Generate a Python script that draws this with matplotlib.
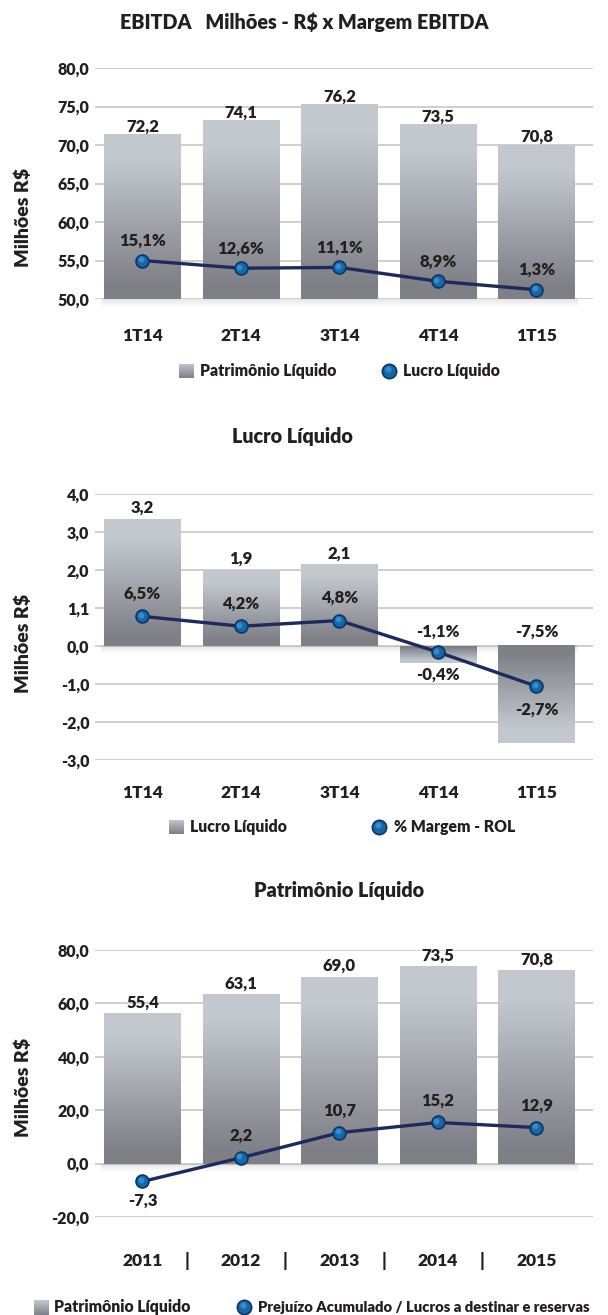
import numpy as np
import matplotlib
matplotlib.use("Agg")
import matplotlib.pyplot as plt
from matplotlib.lines import Line2D
from matplotlib.transforms import offset_copy

# ---------------- data ----------------
quarters = ["1T14", "2T14", "3T14", "4T14", "1T15"]
years = ["2011", "2012", "2013", "2014", "2015"]

ebitda_bars = [71.4, 73.2, 75.2, 72.7, 70.0]
ebitda_bar_labels = ["72,2", "74,1", "76,2", "73,5", "70,8"]
ebitda_line = [55.0, 54.0, 54.1, 52.3, 51.2]
ebitda_line_labels = ["15,1%", "12,6%", "11,1%", "8,9%", "1,3%"]
ebitda_ticks = [50, 55, 60, 65, 70, 75, 80]
ebitda_ticklabels = ["50,0", "55,0", "60,0", "65,0", "70,0", "75,0", "80,0"]

lucro_bars = [3.34, 2.0, 2.15, -0.44, -2.56]
lucro_bar_labels = ["3,2", "1,9", "2,1", "-0,4%", "-2,7%"]
lucro_line = [0.78, 0.52, 0.67, -0.16, -1.06]
lucro_line_labels = ["6,5%", "4,2%", "4,8%", "-1,1%", "-7,5%"]
lucro_ticks = [-3, -2, -1, 0, 1, 2, 3, 4]
lucro_ticklabels = ["-3,0", "-2,0", "-1,0", "0,0", "1,1", "2,0", "3,0", "4,0"]

pl_bars = [56.2, 63.3, 70.0, 73.8, 72.3]
pl_bar_labels = ["55,4", "63,1", "69,0", "73,5", "70,8"]
pl_line = [-6.7, 2.2, 11.6, 15.4, 13.5]
pl_line_labels = ["-7,3", "2,2", "10,7", "15,2", "12,9"]
pl_ticks = [-20, 0, 20, 40, 60, 80]
pl_ticklabels = ["-20,0", "0,0", "20,0", "40,0", "60,0", "80,0"]

# ---------------- style ----------------
FONT = ["Lato", "DejaVu Sans"]
plt.rcParams["font.family"] = FONT
WT = "heavy"
plt.rcParams["font.weight"] = WT
TXT = "#231f20"
GRID = "#cccccc"
NAVY = "#1e2a5c"
DARK = np.array([0.50, 0.50, 0.53])
LIGHT = np.array([0.765, 0.785, 0.81])

TICK_FS = 11.5
VAL_FS = 12
CAT_FS = 12.5
LEG_FS = 11.3
TITLE_FS = 14.2
YLAB_FS = 14

W, H = 608, 1315
fig = plt.figure(figsize=(W / 100, H / 100), dpi=100)
fig.patch.set_facecolor("white")

AX_L, AX_R = 95, 593


def px_axes(t, b):
    return fig.add_axes([AX_L / W, 1 - b / H, (AX_R - AX_L) / W, (b - t) / H])


def grad_col(n, positive, t0=0.08, t1=0.85):
    t = np.linspace(0, 1, n)
    s = np.clip((t - t0) / (t1 - t0), 0, 1)
    c = DARK[None, :] + (LIGHT - DARK)[None, :] * s[:, None]
    if not positive:
        c = c[::-1]
    return c[:, None, :]


def gradient_bars(ax, x, heights, bottom=0.0):
    bars = ax.bar(x, heights, width=0.78, bottom=bottom, color="none",
                  edgecolor="none", zorder=2)
    for p in bars.patches:
        x0, y0, w, h = p.get_x(), p.get_y(), p.get_width(), p.get_height()
        pos = h >= 0
        ylo, yhi = (y0, y0 + h) if pos else (y0 + h, y0)
        ax.imshow(grad_col(200, pos), extent=[x0, x0 + w, ylo, yhi],
                  origin="lower", aspect="auto", zorder=2,
                  interpolation="bilinear")
    return bars


def shadow(ax, base, px_per_unit):
    n = 30
    a = np.linspace(0.32, 0.0, n) ** 1.3
    img = np.zeros((n, 1, 4))
    img[:, 0, :3] = 0.55
    img[:, 0, 3] = a
    depth = 9 / px_per_unit
    im = ax.imshow(img, extent=[-0.42, 4.42, base - depth, base],
                   origin="upper", aspect="auto", zorder=1.5,
                   interpolation="bilinear")
    im.set_clip_on(False)


def sphere_line(ax, x, y):
    ax.plot(x, y, color=NAVY, lw=2.4, zorder=4, solid_capstyle="round")
    ax.plot(x, y, "o", ms=10.5, mfc="#0a3866", mec="none", zorder=5, lw=0)
    ax.plot(x, y, "o", ms=8, mfc="#1766a8", mec="none", zorder=6, lw=0)
    tr = offset_copy(ax.transData, fig=fig, x=-1.5, y=1.5, units="dots")
    ax.plot(x, y, "o", ms=4.2, mfc="#3f95d4", mec="none", zorder=7, lw=0,
            transform=tr, alpha=0.8)


def style_axes(ax, ylim, ticks, ticklabels):
    ax.set_xlim(-0.482, 4.574)
    ax.set_ylim(*ylim)
    ax.set_yticks(ticks)
    ax.set_yticklabels(ticklabels)
    ax.set_xticks([])
    for s in ax.spines.values():
        s.set_visible(False)
    ax.tick_params(axis="y", length=0, pad=4, labelsize=TICK_FS,
                   labelcolor=TXT)
    for lab in ax.get_yticklabels():
        lab.set_fontweight(WT)
    ax.grid(axis="y", color=GRID, lw=1.3, zorder=0)
    ax.set_axisbelow(True)


def ann(ax, text, x, y, dy, size=VAL_FS):
    ax.annotate(text, xy=(x, y), xytext=(0, dy), textcoords="offset pixels",
                ha="center", va="center", fontsize=size, fontweight=WT,
                color=TXT, zorder=8)


def cat_labels(ax, labels, dy):
    for i, lab in enumerate(labels):
        ax.annotate(lab, xy=(i, 0), xycoords=("data", "axes fraction"),
                    xytext=(0, dy), textcoords="offset pixels",
                    ha="center", va="center", fontsize=CAT_FS,
                    fontweight=WT, color=TXT, annotation_clip=False)


def legend_square(x, y, size=15):
    lax = fig.add_axes([x / W, 1 - (y + size / 2) / H, size / W, size / H])
    lax.imshow(grad_col(50, True, 0.0, 1.0), origin="lower", aspect="auto",
               extent=[0, 1, 0, 1], interpolation="bilinear")
    lax.axis("off")


def legend_circle(x, y):
    for ms, c in [(11.5, "#0a3866"), (9, "#1766a8")]:
        fig.add_artist(Line2D([x / W], [1 - y / H], marker="o", ms=ms,
                              mfc=c, mec="none", transform=fig.transFigure))
    tr = offset_copy(fig.transFigure, fig=fig, x=-1.5, y=1.8, units="dots")
    fig.add_artist(Line2D([x / W], [1 - y / H], marker="o", ms=4.5,
                          mfc="#3f95d4", mec="none", alpha=0.8, transform=tr))


def ftext(x, y, s, size, ha="left", **kw):
    fig.text(x / W, 1 - y / H, s, fontsize=size, fontweight=WT,
             color=TXT, ha=ha, va="center", **kw)


xq = np.arange(len(quarters))

# ---------------- panel 1 ----------------
ax1 = px_axes(68, 299)
style_axes(ax1, (50, 80), ebitda_ticks, ebitda_ticklabels)
gradient_bars(ax1, xq, np.array(ebitda_bars) - 50, bottom=50)
shadow(ax1, 50, 7.7)
sphere_line(ax1, xq, ebitda_line)
for i in xq:
    ann(ax1, ebitda_bar_labels[i], i, ebitda_bars[i], 8)
    ann(ax1, ebitda_line_labels[i], i, ebitda_line[i], 20)
style_axes(ax1, (50, 80), ebitda_ticks, ebitda_ticklabels)
cat_labels(ax1, quarters, -37)
ftext(304, 22, "EBITDA   Milhões - R$ x Margem EBITDA", TITLE_FS, ha="center")
ftext(23, 217, "Milhões R$", YLAB_FS, ha="center", rotation=90)
legend_square(179, 371)
ftext(200, 371, "Patrimônio Líquido", LEG_FS)
legend_circle(389, 371)
ftext(403, 371, "Lucro Líquido", LEG_FS)

# ---------------- panel 2 ----------------
ax2 = px_axes(494, 760)
style_axes(ax2, (-3, 4), lucro_ticks, lucro_ticklabels)
gradient_bars(ax2, xq, lucro_bars)
shadow(ax2, 0, 38)
sphere_line(ax2, xq, lucro_line)
for i in xq:
    if lucro_bars[i] >= 0:
        ann(ax2, lucro_bar_labels[i], i, lucro_bars[i], 11)
        ann(ax2, lucro_line_labels[i], i, lucro_line[i], 23)
    else:
        ann(ax2, lucro_line_labels[i], i, 0, 14)
        ann(ax2, lucro_bar_labels[i], i, lucro_line[i], -23)
style_axes(ax2, (-3, 4), lucro_ticks, lucro_ticklabels)
cat_labels(ax2, quarters, -33)
ftext(292, 437, "Lucro Líquido", TITLE_FS, ha="center")
ftext(23, 643, "Milhões R$", YLAB_FS, ha="center", rotation=90)
legend_square(169, 827)
ftext(190, 827, "Lucro Líquido", LEG_FS)
legend_circle(379, 827)
ftext(394, 827, "% Margem - ROL", LEG_FS)

# ---------------- panel 3 ----------------
ax3 = px_axes(950, 1217)
style_axes(ax3, (-20, 80), pl_ticks, pl_ticklabels)
gradient_bars(ax3, xq, pl_bars)
shadow(ax3, 0, 2.67)
sphere_line(ax3, xq, pl_line)
for i in xq:
    ann(ax3, pl_bar_labels[i], i, pl_bars[i], 11)
    ann(ax3, pl_line_labels[i], i, pl_line[i], 22 if pl_line[i] >= 0 else -19)
style_axes(ax3, (-20, 80), pl_ticks, pl_ticklabels)
cat_labels(ax3, years, -44)
for i in xq[:-1]:
    ax3.annotate("|", xy=(i + 0.45, 0), xycoords=("data", "axes fraction"),
                 xytext=(0, -44), textcoords="offset pixels", ha="center",
                 va="center", fontsize=13, color=TXT, annotation_clip=False)
ftext(339, 891, "Patrimônio Líquido", TITLE_FS, ha="center")
ftext(23, 1087, "Milhões R$", YLAB_FS, ha="center", rotation=90)
legend_square(34, 1307)
ftext(54, 1307, "Patrimônio Líquido", LEG_FS)
legend_circle(244, 1307)
ftext(258, 1307, "Prejuízo Acumulado / Lucros a destinar e reservas", 10.6)

fig.savefig("out.png", dpi=100, facecolor="white")
